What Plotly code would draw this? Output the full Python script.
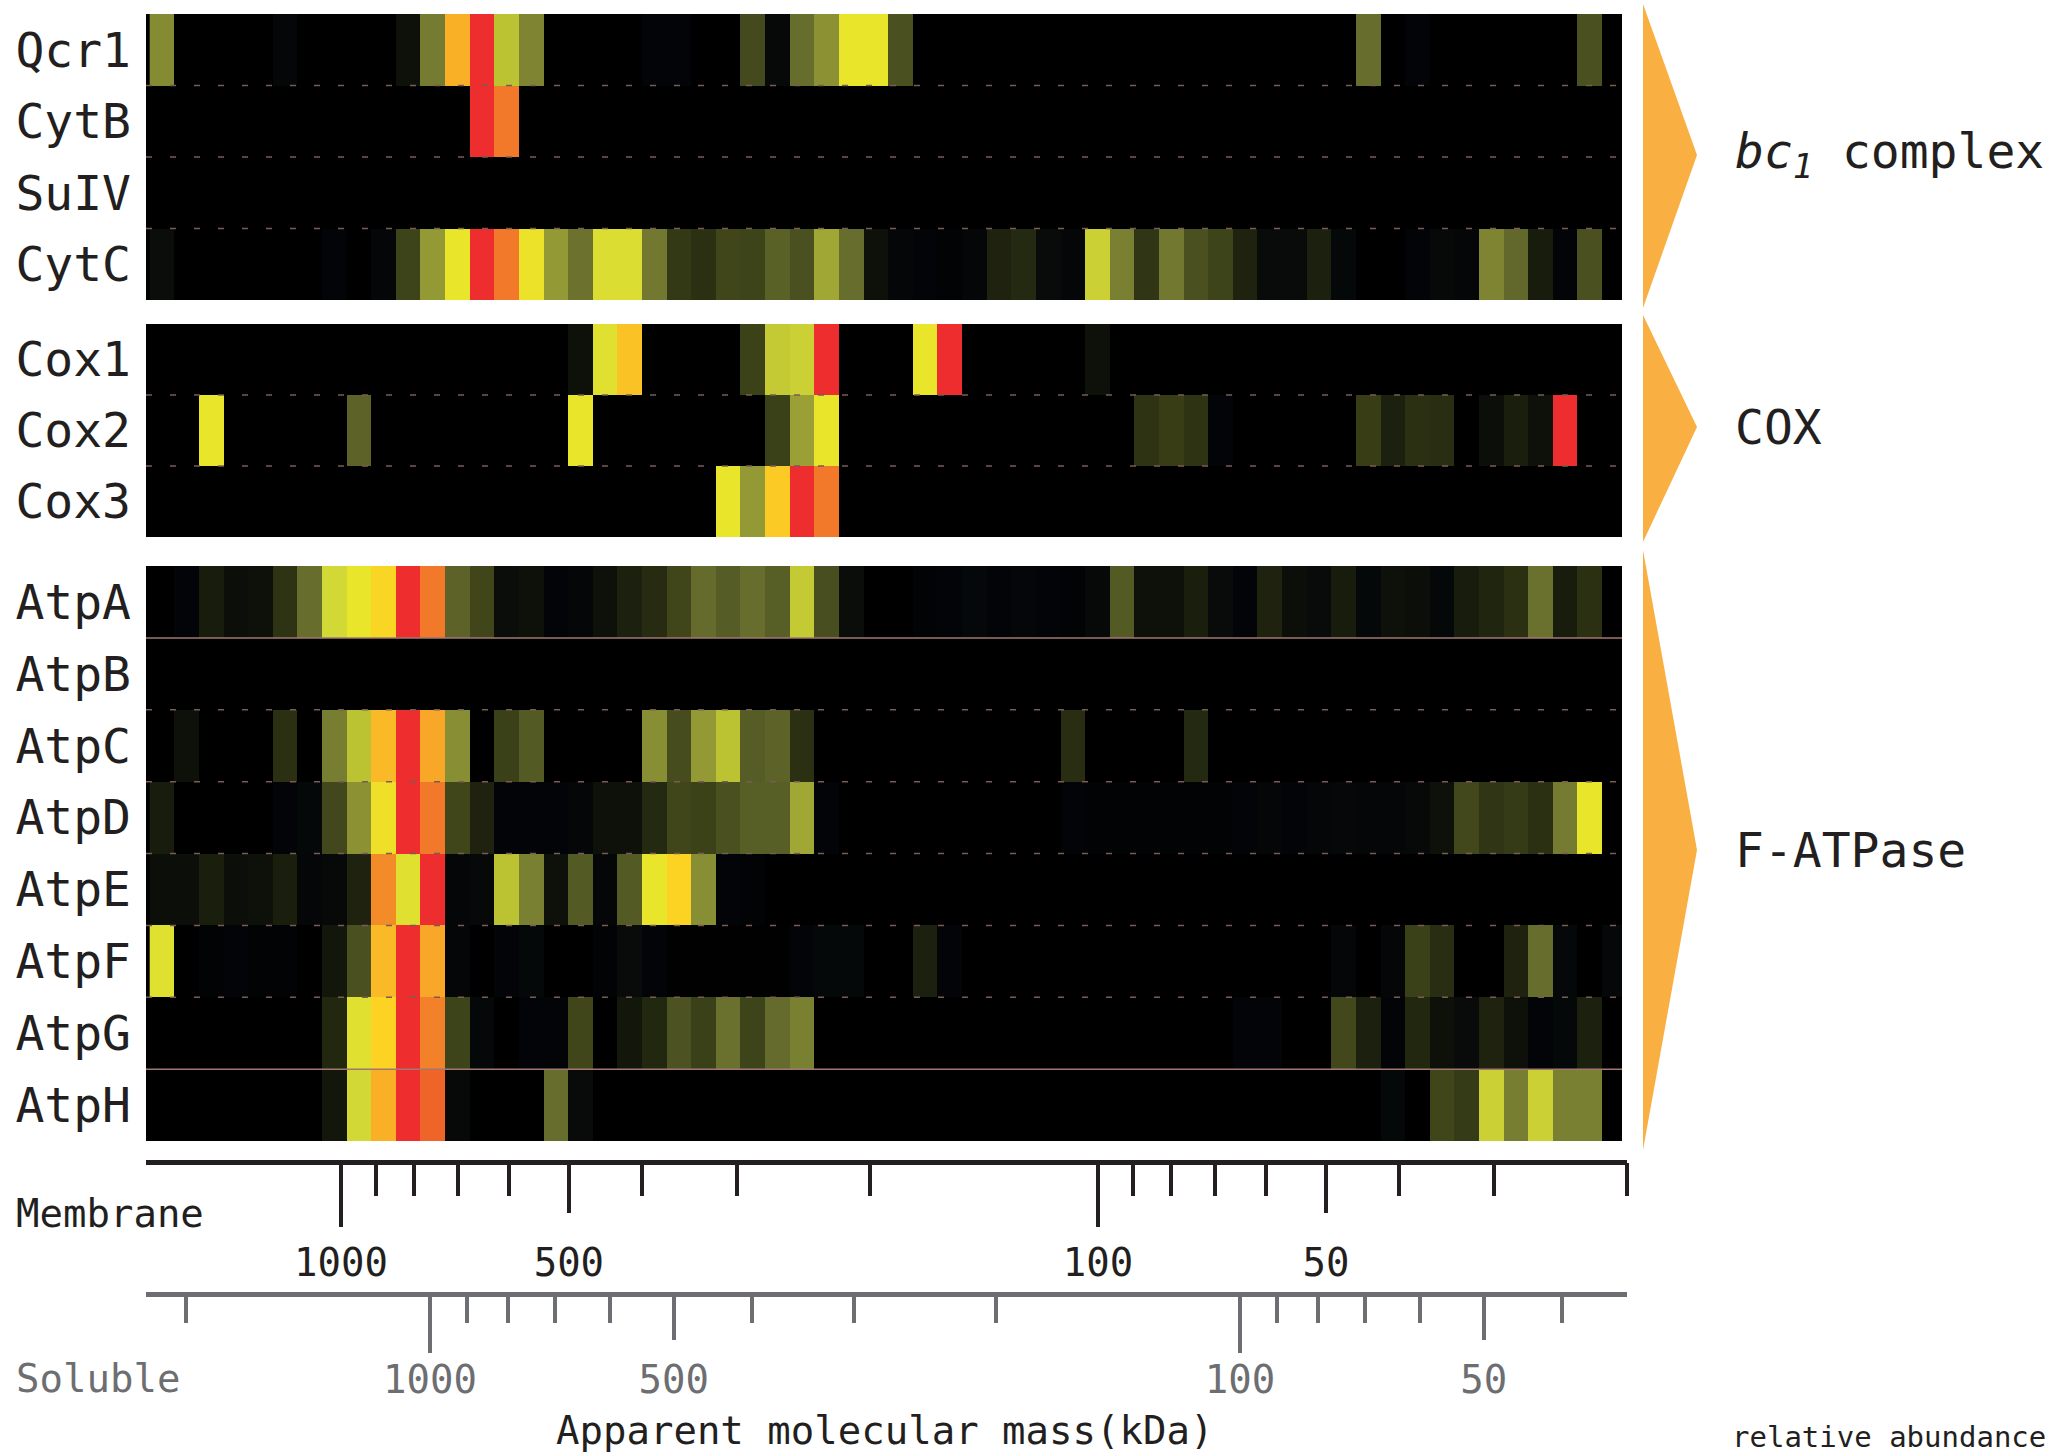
import plotly.graph_objects as go

W, H = 2054, 1455
FONT = "DejaVu Sans Mono"
INK = "#231f20"
GREY = "#6d6e71"

# ---------------- data ----------------
bc1_names = ["Qcr1", "CytB", "SuIV", "CytC"]
cox_names = ["Cox1", "Cox2", "Cox3"]
atp_names = ["AtpA", "AtpB", "AtpC", "AtpD", "AtpE", "AtpF", "AtpG", "AtpH"]
group_labels = ["<i>bc<sub>1</sub></i> complex", "COX", "F-ATPase"]

Qcr1 = [0.60, 0, 0, 0, 0, 0.04, 0, 0, 0, 0,
        0.10, 0.55, 0.88, 1.00, 0.70, 0.58, 0, 0, 0, 0,
        0.03, 0.03, 0, 0, 0.35, 0.06, 0.50, 0.62, 0.78, 0.78,
        0.38, 0, 0, 0, 0, 0, 0, 0, 0, 0,
        0, 0, 0, 0, 0, 0, 0, 0, 0, 0.50,
        0, 0.03, 0, 0, 0, 0, 0, 0, 0.38, 0]
CytB = [0, 0, 0, 0, 0, 0, 0, 0, 0, 0,
        0, 0, 0, 1.00, 0.94, 0, 0, 0, 0, 0,
        0, 0, 0, 0, 0, 0, 0, 0, 0, 0,
        0, 0, 0, 0, 0, 0, 0, 0, 0, 0,
        0, 0, 0, 0, 0, 0, 0, 0, 0, 0,
        0, 0, 0, 0, 0, 0, 0, 0, 0, 0]
SuIV = [0] * 60
CytC = [0.08, 0, 0, 0, 0, 0, 0, 0.03, 0, 0.04,
        0.32, 0.64, 0.78, 1.00, 0.94, 0.79, 0.64, 0.52, 0.75, 0.75,
        0.54, 0.27, 0.24, 0.33, 0.32, 0.45, 0.38, 0.66, 0.50, 0.10,
        0.04, 0.03, 0.02, 0.04, 0.18, 0.21, 0.07, 0.04, 0.72, 0.57,
        0.26, 0.54, 0.38, 0.32, 0.18, 0.07, 0.07, 0.17, 0.05, 0,
        0, 0.03, 0.06, 0.04, 0.58, 0.48, 0.15, 0.03, 0.38, 0]

Cox1 = [0, 0, 0, 0, 0, 0, 0, 0, 0, 0,
        0, 0, 0, 0, 0, 0, 0, 0.10, 0.76, 0.86,
        0, 0, 0, 0, 0.31, 0.71, 0.72, 1.00, 0, 0,
        0, 0.78, 1.00, 0, 0, 0, 0, 0, 0.10, 0,
        0, 0, 0, 0, 0, 0, 0, 0, 0, 0,
        0, 0, 0, 0, 0, 0, 0, 0, 0, 0]
Cox2 = [0, 0, 0.78, 0, 0, 0, 0, 0, 0.46, 0,
        0, 0, 0, 0, 0, 0, 0, 0.78, 0, 0,
        0, 0, 0, 0, 0, 0.30, 0.65, 0.78, 0, 0,
        0, 0, 0, 0, 0, 0, 0, 0, 0, 0,
        0.25, 0.29, 0.25, 0.03, 0, 0, 0, 0, 0, 0.29,
        0.17, 0.24, 0.23, 0, 0.09, 0.16, 0.10, 1.00, 0, 0]
Cox3 = [0, 0, 0, 0, 0, 0, 0, 0, 0, 0,
        0, 0, 0, 0, 0, 0, 0, 0, 0, 0,
        0, 0, 0, 0.78, 0.64, 0.85, 1.00, 0.94, 0, 0,
        0, 0, 0, 0, 0, 0, 0, 0, 0, 0,
        0, 0, 0, 0, 0, 0, 0, 0, 0, 0,
        0, 0, 0, 0, 0, 0, 0, 0, 0, 0]

AtpA = [0, 0.03, 0.15, 0.09, 0.10, 0.25, 0.50, 0.73, 0.78, 0.83,
        1.00, 0.94, 0.46, 0.33, 0.08, 0.10, 0.03, 0.04, 0.10, 0.17,
        0.22, 0.33, 0.49, 0.43, 0.50, 0.44, 0.71, 0.37, 0.08, 0,
        0, 0.02, 0.03, 0.05, 0.03, 0.04, 0.03, 0.02, 0.06, 0.42,
        0.10, 0.10, 0.16, 0.07, 0.03, 0.18, 0.09, 0.07, 0.15, 0.05,
        0.10, 0.09, 0.05, 0.15, 0.19, 0.24, 0.51, 0.15, 0.24, 0]
AtpB = [0] * 60
AtpC = [0, 0.10, 0, 0, 0, 0.24, 0, 0.56, 0.70, 0.87,
        1.00, 0.89, 0.61, 0, 0.30, 0.42, 0, 0, 0, 0,
        0.61, 0.36, 0.64, 0.70, 0.43, 0.46, 0.24, 0, 0, 0,
        0, 0, 0, 0, 0, 0, 0, 0.23, 0, 0,
        0, 0, 0.21, 0, 0, 0, 0, 0, 0, 0,
        0, 0, 0, 0, 0, 0, 0, 0, 0, 0]
AtpD = [0.15, 0, 0, 0, 0, 0.03, 0.05, 0.34, 0.62, 0.80,
        1.00, 0.94, 0.33, 0.18, 0.03, 0.03, 0.03, 0.04, 0.10, 0.10,
        0.21, 0.33, 0.31, 0.38, 0.44, 0.44, 0.66, 0.03, 0, 0,
        0, 0, 0, 0, 0, 0, 0, 0.03, 0.02, 0.02,
        0.02, 0.02, 0.02, 0.02, 0.03, 0.04, 0.03, 0.04, 0.05, 0.04,
        0.04, 0.06, 0.10, 0.34, 0.26, 0.28, 0.24, 0.55, 0.78, 0]
AtpE = [0.09, 0.09, 0.16, 0.09, 0.10, 0.16, 0.04, 0.06, 0.18, 0.92,
        0.76, 1.00, 0.04, 0.06, 0.70, 0.57, 0.10, 0.42, 0.04, 0.42,
        0.78, 0.84, 0.61, 0.03, 0.02, 0, 0, 0, 0, 0,
        0, 0, 0, 0, 0, 0, 0, 0, 0, 0,
        0, 0, 0, 0, 0, 0, 0, 0, 0, 0,
        0, 0, 0, 0, 0, 0, 0, 0, 0, 0]
AtpF = [0.76, 0, 0.02, 0.03, 0.02, 0.02, 0, 0.12, 0.38, 0.87,
        1.00, 0.89, 0.04, 0, 0.03, 0.05, 0, 0, 0.02, 0.07,
        0.03, 0.01, 0.01, 0.01, 0.01, 0.01, 0.03, 0.05, 0.05, 0,
        0, 0.17, 0.03, 0, 0, 0, 0, 0, 0, 0,
        0, 0, 0, 0, 0, 0, 0, 0, 0.04, 0,
        0.04, 0.30, 0.23, 0, 0, 0.18, 0.50, 0.05, 0, 0.05]
AtpG = [0, 0, 0, 0, 0, 0, 0, 0.20, 0.76, 0.84,
        1.00, 0.93, 0.32, 0.05, 0, 0.03, 0.03, 0.33, 0, 0.12,
        0.20, 0.39, 0.30, 0.51, 0.32, 0.49, 0.57, 0, 0, 0,
        0, 0, 0, 0, 0, 0, 0, 0, 0, 0,
        0, 0, 0, 0, 0.03, 0.03, 0, 0, 0.34, 0.17,
        0.03, 0.20, 0.10, 0.07, 0.18, 0.10, 0.03, 0.05, 0.17, 0]
AtpH = [0, 0, 0, 0, 0, 0, 0, 0.12, 0.73, 0.88,
        1.00, 0.96, 0.06, 0, 0, 0, 0.50, 0.07, 0, 0,
        0, 0, 0, 0, 0, 0, 0, 0, 0, 0,
        0, 0, 0, 0, 0, 0, 0, 0, 0, 0,
        0, 0, 0, 0, 0, 0, 0, 0, 0, 0,
        0.05, 0, 0.33, 0.28, 0.72, 0.56, 0.72, 0.57, 0.57, 0]

bc1_rows = [Qcr1, CytB, SuIV, CytC]
cox_rows = [Cox1, Cox2, Cox3]
atp_rows = [AtpA, AtpB, AtpC, AtpD, AtpE, AtpF, AtpG, AtpH]

# axis ticks (kDa)
membrane_labels = [1000, 500, 100, 50]
membrane_long = [1000, 100]
membrane_short = [900, 800, 700, 600, 400, 300, 200, 90, 80, 70, 60, 40, 30, 20]
soluble_labels = [1000, 500, 100, 50]
soluble_long = [1000, 100]
soluble_short = [2000, 900, 800, 700, 600, 400, 300, 200, 90, 80, 70, 60, 40]

colorscale = [
    [0.00, "#000000"], [0.03, "#020407"], [0.08, "#0a0d09"], [0.15, "#181c0c"],
    [0.22, "#262b12"], [0.30, "#3a4017"], [0.38, "#4a5020"], [0.45, "#5a6127"],
    [0.50, "#676d2d"], [0.57, "#7a8032"], [0.64, "#939935"], [0.70, "#bcc333"],
    [0.73, "#d2d836"], [0.78, "#e8e52b"], [0.84, "#fdd323"], [0.88, "#f9b027"],
    [0.94, "#f2782a"], [0.96, "#ef6428"], [1.00, "#ee2e2e"],
]

# ---------------- helpers (pixel -> paper) ----------------
def px(x):
    return x / W


def py(y):
    return 1 - y / H


ncols = len(Qcr1)
cols = list(range(ncols))

panels = [
    (bc1_names, bc1_rows, "y", "yaxis", 14, 300),
    (cox_names, cox_rows, "y2", "yaxis2", 324, 537),
    (atp_names, atp_rows, "y3", "yaxis3", 566, 1141),
]

fig = go.Figure()
layout = dict(
    width=W, height=H,
    margin=dict(l=0, r=0, t=0, b=0),
    paper_bgcolor="white", plot_bgcolor="rgba(0,0,0,0)",
    font=dict(family=FONT, color=INK),
    showlegend=False,
)
shapes = []
HL, HR = 146, 1622

layout["xaxis"] = dict(domain=[px(HL), px(HR)], range=[-0.65, 59.3], visible=False,
                       anchor="y3", showgrid=False, zeroline=False)

for names, rows, yid, yname, top, bot in panels:
    fig.add_trace(go.Heatmap(
        z=rows, x=cols, y=names, xaxis="x", yaxis=yid,
        colorscale=colorscale, zmin=0, zmax=1, showscale=False,
    ))
    layout[yname] = dict(
        domain=[py(bot), py(top)], anchor="x", type="category",
        autorange="reversed", showgrid=False, zeroline=False,
        ticks="", ticklabelstandoff=14,
        tickfont=dict(family=FONT, size=48, color=INK),
    )
    shapes.append(dict(type="rect", xref="paper", yref="paper",
                       x0=px(HL), x1=px(HR), y0=py(bot), y1=py(top),
                       fillcolor="black", line=dict(width=0), layer="below"))
    for k in range(len(names) - 1):
        solid = names[k] in ("AtpA", "AtpG")
        shapes.append(dict(type="line", xref="paper", yref=yid,
                           x0=px(HL), x1=px(HR), y0=k + 0.5, y1=k + 0.5,
                           line=dict(color="#a07870" if solid else "#7a5c55",
                                     width=1.5, dash="solid" if solid else "6px,18px"),
                           layer="above"))

# ---------------- mass scales ----------------
# hidden helper y axis so that the free mass axes belong to a drawn subplot
layout["yaxis4"] = dict(domain=[0.0, 0.05], range=[0, 1], visible=False,
                        anchor="x4", fixedrange=True)


def mass_axes(ids, pos, rng, color, lab, long_, short_, lens, standoff):
    base = dict(type="log", domain=[px(HL), px(1627)], anchor="free", position=pos,
                range=rng, showgrid=False, zeroline=False, ticks="outside",
                tickcolor=color, tickwidth=3.5, tickmode="array", fixedrange=True)
    a, b, c = ids
    layout["xaxis" + a] = dict(base, tickvals=lab, ticktext=[str(v) for v in lab], ticklen=lens[1],
                               showline=True, linewidth=5, linecolor=color,
                               tickfont=dict(family=FONT, size=39, color=color),
                               ticklabelstandoff=standoff)
    layout["xaxis" + b] = dict(base, tickvals=long_, ticklen=lens[2], showticklabels=False,
                               showline=False)
    layout["xaxis" + c] = dict(base, tickvals=short_, ticklen=lens[0], showticklabels=False,
                               showline=False)
    for i in ids:
        fig.add_trace(go.Scatter(x=[lab[0]], y=[0.5], xaxis="x" + i, yaxis="y4",
                                 mode="markers", marker=dict(opacity=0, size=1),
                                 hoverinfo="skip", showlegend=False))


mass_axes(("4", "5", "6"), py(1162), [3.2576, 1.3012], INK,
          membrane_labels, membrane_long, membrane_short, (33, 48, 64), 16)
mass_axes(("7", "8", "9"), py(1294), [3.3506, 1.5222], GREY,
          soluble_labels, soluble_long, soluble_short, (28, 43, 58), 6)

# ---------------- group markers ----------------
ORANGE = "#f9af41"
tri = [(4, 308, 155), (315, 542, 427), (550, 1150, 850)]
for (t, b, m) in tri:
    shapes.append(dict(type="path", xref="paper", yref="paper",
                       path=f"M {px(1643)},{py(t)} L {px(1697)},{py(m)} L {px(1643)},{py(b)} Z",
                       fillcolor=ORANGE, line=dict(width=0)))

annotations = []
for lbl, (t, b, m) in zip(group_labels, tri):
    annotations.append(dict(text=lbl, xref="paper", yref="paper", x=px(1733), y=py(m),
                            xanchor="left", yanchor="middle", showarrow=False,
                            font=dict(family=FONT, size=48, color=INK)))

annotations += [
    dict(text="Membrane", x=px(14), y=py(1213), font=dict(family=FONT, size=39, color=INK)),
    dict(text="Soluble", x=px(14), y=py(1378), font=dict(family=FONT, size=39, color=GREY)),
    dict(text="relative abundance", x=px(1730), y=py(1437), font=dict(family=FONT, size=29, color=INK)),
]
for a in annotations[-3:]:
    a.update(xref="paper", yref="paper", xanchor="left", yanchor="middle", showarrow=False)
annotations.append(dict(text="Apparent molecular mass(kDa)", xref="paper", yref="paper",
                        x=px(884), y=py(1430), xanchor="center", yanchor="middle",
                        showarrow=False, font=dict(family=FONT, size=39, color=INK)))

layout["shapes"] = shapes
layout["annotations"] = annotations
fig.update_layout(**layout)

fig.write_html("out.html", post_script="document.body.style.margin='0';",
               config={"displayModeBar": False})
